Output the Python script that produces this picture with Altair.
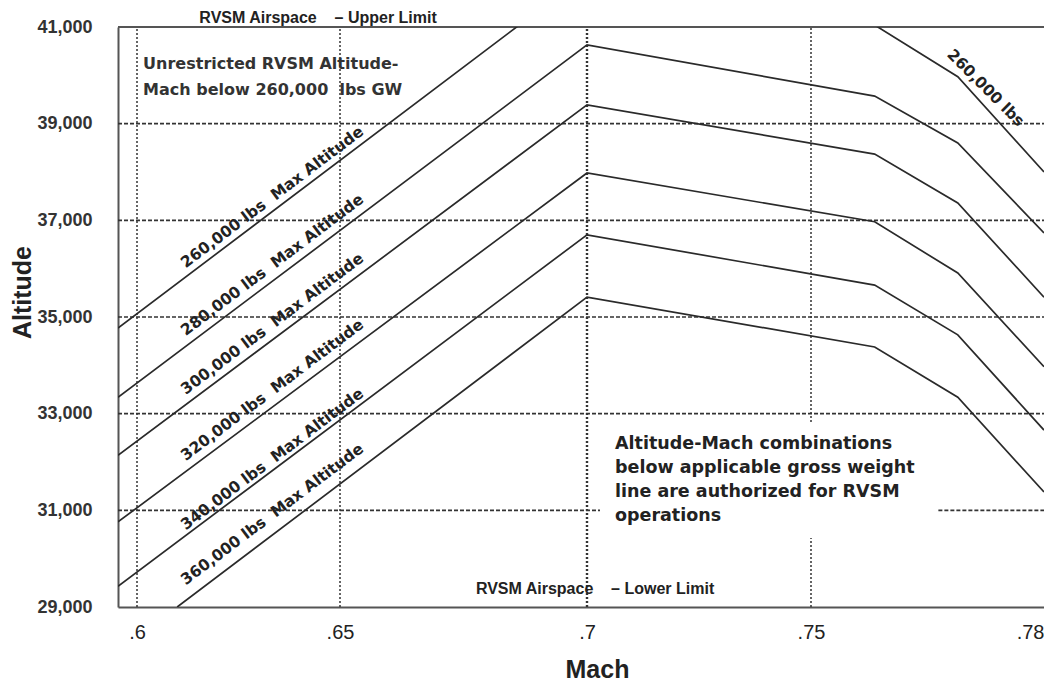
import altair as alt
import pandas as pd

# ---------------- data ----------------
# axis ticks
mach_ticks = [0.6, 0.65, 0.7, 0.75, 0.78]
alt_ticks = [29000, 31000, 33000, 35000, 37000, 39000, 41000]

# hand drawn chart: uneven tick spacing -> piecewise Mach scale
mach_domain = [0.5953, 0.6, 0.65, 0.7, 0.75, 0.78]
mach_range_px = [0, 19, 222, 469, 693, 926]
alt_domain = [29000, 41000]

# gross weight max-altitude lines
weights = ["260,000", "280,000", "300,000", "320,000", "340,000", "360,000"]
line_mach = [
    [0.5953, 0.7, 0.7582, 0.7689, 0.78],
    [0.5953, 0.7, 0.7582, 0.7689, 0.78],
    [0.5953, 0.7, 0.7582, 0.7689, 0.78],
    [0.5953, 0.7, 0.7582, 0.7689, 0.78],
    [0.5953, 0.7, 0.7582, 0.7689, 0.78],
    [0.6099, 0.7, 0.7582, 0.7689, 0.78],
]
line_alt = [
    [34770, 42100, 41040, 39970, 38000],
    [33340, 40630, 39570, 38600, 36740],
    [32140, 39390, 38370, 37360, 35410],
    [30760, 37980, 36970, 35910, 33970],
    [29430, 36700, 35660, 34630, 32660],
    [29000, 35410, 34380, 33340, 31380],
]

# grid lines (two are interrupted by the note text)
h_grid = [31000, 33000, 35000, 37000, 39000]
v_grid = [0.6, 0.65, 0.7, 0.75]
h_gap = {31000: (0.7029, 0.7664)}
v_gap = {0.75: (30430, 32830)}

# labels along the lines
NB = "\u00a0"
rot_label_mach = [0.6333] * 6
rot_label_alt = [37480, 36080, 34860, 33490, 32060, 30920]
rot_labels = [f"{w} lbs{NB} Max Altitude" for w in weights]
desc_label = "260,000 lbs"
desc_label_mach = 0.7725
desc_label_alt = 39740

note1 = f"Unrestricted RVSM Altitude-\nMach below 260,000{NB} lbs GW"
note1_pos = (0.6015, 40130)
note2 = ("Altitude-Mach combinations\nbelow applicable gross weight\n"
         "line are authorized for RVSM\noperations")
note2_pos = (0.70625, 32270)
upper_label = f"RVSM Airspace{NB}{NB}{NB} \u2013 Upper Limit"
upper_pos = (0.6446, 41000)
lower_label = f"RVSM Airspace{NB}{NB}{NB} \u2013 Lower Limit"
lower_pos = (0.7018, 29000)

# ---------------- tables ----------------
rows = []
for w, ms, als in zip(weights, line_mach, line_alt):
    for m, a in zip(ms, als):
        rows.append({"weight": w, "mach": m, "alt": a})
lines_df = pd.DataFrame(rows)

xmin, xmax = mach_domain[0], mach_domain[-1]
hrows = []
for h in h_grid:
    if h in h_gap:
        g0, g1 = h_gap[h]
        hrows.append({"alt": h, "m0": xmin, "m1": g0})
        hrows.append({"alt": h, "m0": g1, "m1": xmax})
    else:
        hrows.append({"alt": h, "m0": xmin, "m1": xmax})
hgrid_df = pd.DataFrame(hrows)

vrows = []
for v in v_grid:
    if v in v_gap:
        g0, g1 = v_gap[v]
        vrows.append({"mach": v, "a0": alt_domain[0], "a1": g0})
        vrows.append({"mach": v, "a0": g1, "a1": alt_domain[1]})
    else:
        vrows.append({"mach": v, "a0": alt_domain[0], "a1": alt_domain[1]})
vgrid_df = pd.DataFrame(vrows)

top_df = pd.DataFrame([{"alt": alt_domain[1], "m0": xmin, "m1": xmax}])
rot_df = pd.DataFrame({"mach": rot_label_mach, "alt": rot_label_alt, "text": rot_labels})
desc_df = pd.DataFrame([{"mach": desc_label_mach, "alt": desc_label_alt, "text": desc_label}])
note1_df = pd.DataFrame([{"mach": note1_pos[0], "alt": note1_pos[1], "text": note1}])
note2_df = pd.DataFrame([{"mach": note2_pos[0], "alt": note2_pos[1], "text": note2}])
upper_df = pd.DataFrame([{"mach": upper_pos[0], "alt": upper_pos[1], "text": upper_label}])
lower_df = pd.DataFrame([{"mach": lower_pos[0], "alt": lower_pos[1], "text": lower_label}])

# ---------------- scales & axes ----------------
x_scale = alt.Scale(domain=mach_domain, range=mach_range_px, zero=False, nice=False)
y_scale = alt.Scale(domain=alt_domain, zero=False, nice=False)

x_axis = alt.Axis(
    values=mach_ticks, format=".2~f", labelExpr="substring(datum.label, 1)",
    labelFlush=True, labelOverlap=False, ticks=False, grid=False,
    domain=True, domainColor="#555", domainWidth=2,
    labelFont="Liberation Sans", labelFontSize=20, labelColor="#222", labelPadding=15,
    title="Mach", titleFont="Liberation Sans", titleFontSize=25, titleFontWeight="bold",
    titleColor="#222", titleX=479, titleY=70, titleBaseline="alphabetic",
)
y_axis = alt.Axis(
    values=alt_ticks, format=",d", ticks=False, grid=False,
    domain=True, domainColor="#555", domainWidth=2,
    labelFont="Liberation Sans", labelFontSize=18, labelFontWeight="bold",
    labelColor="#333", labelPadding=26,
    title="Altitude", titleFont="Liberation Sans", titleFontSize=25, titleFontWeight="bold",
    titleColor="#222", titleAngle=270, titleX=-96, titleY=265, titleAlign="center",
    titleBaseline="middle",
)


def X(field, **kw):
    return alt.X(field, type="quantitative", scale=x_scale, axis=x_axis, **kw)


def Y(field, **kw):
    return alt.Y(field, type="quantitative", scale=y_scale, axis=y_axis, **kw)


hgrid = alt.Chart(hgrid_df).mark_rule(
    color="#333", strokeWidth=1.6, strokeDash=[4, 2]
).encode(x=X("m0"), x2="m1", y=Y("alt"))

vgrid = alt.Chart(vgrid_df).mark_rule(
    color="#333", strokeDash=[2, 2]
).encode(
    x=X("mach"), y=Y("a0"), y2="a1",
    strokeWidth=alt.condition("datum.mach == 0.7", alt.value(2.4), alt.value(1.5)),
)

top = alt.Chart(top_df).mark_rule(color="#555", strokeWidth=2).encode(
    x=X("m0"), x2="m1", y=Y("alt"))

lines = alt.Chart(lines_df).mark_line(color="#2a2a2a", strokeWidth=1.7, clip=True).encode(
    x=X("mach"), y=Y("alt"), detail="weight:N")

rot = alt.Chart(rot_df).mark_text(
    angle=323, align="center", baseline="middle", font="DejaVu Sans",
    fontWeight="bold", fontSize=15.5, color="#222"
).encode(x=X("mach"), y=Y("alt"), text="text:N")

desc = alt.Chart(desc_df).mark_text(
    angle=45, align="center", baseline="middle", font="DejaVu Sans",
    fontWeight="bold", fontSize=15.5, color="#222"
).encode(x=X("mach"), y=Y("alt"), text="text:N")

n1 = alt.Chart(note1_df).mark_text(
    align="left", baseline="alphabetic", lineBreak="\n", lineHeight=26,
    font="DejaVu Sans", fontWeight="bold", fontSize=16, color="#333"
).encode(x=X("mach"), y=Y("alt"), text="text:N")

n2 = alt.Chart(note2_df).mark_text(
    align="left", baseline="alphabetic", lineBreak="\n", lineHeight=24,
    font="DejaVu Sans", fontWeight="bold", fontSize=17.5, color="#222"
).encode(x=X("mach"), y=Y("alt"), text="text:N")

up = alt.Chart(upper_df).mark_text(
    align="center", baseline="alphabetic", dy=-4,
    font="Liberation Sans", fontWeight="bold", fontSize=16, color="#222"
).encode(x=X("mach"), y=Y("alt"), text="text:N")

low = alt.Chart(lower_df).mark_text(
    align="center", baseline="alphabetic", dy=-13,
    font="Liberation Sans", fontWeight="bold", fontSize=16, color="#222"
).encode(x=X("mach"), y=Y("alt"), text="text:N")

chart = alt.layer(hgrid, vgrid, top, lines, rot, desc, n1, n2, up, low).properties(
    width=926, height=580,
    autosize=alt.AutoSizeParams(type="none"),
    padding={"left": 118, "top": 27, "right": 0, "bottom": 74},
    background="white",
).configure_view(strokeWidth=0)

chart.save("out.html", embed_options={"renderer": "svg", "actions": False})
